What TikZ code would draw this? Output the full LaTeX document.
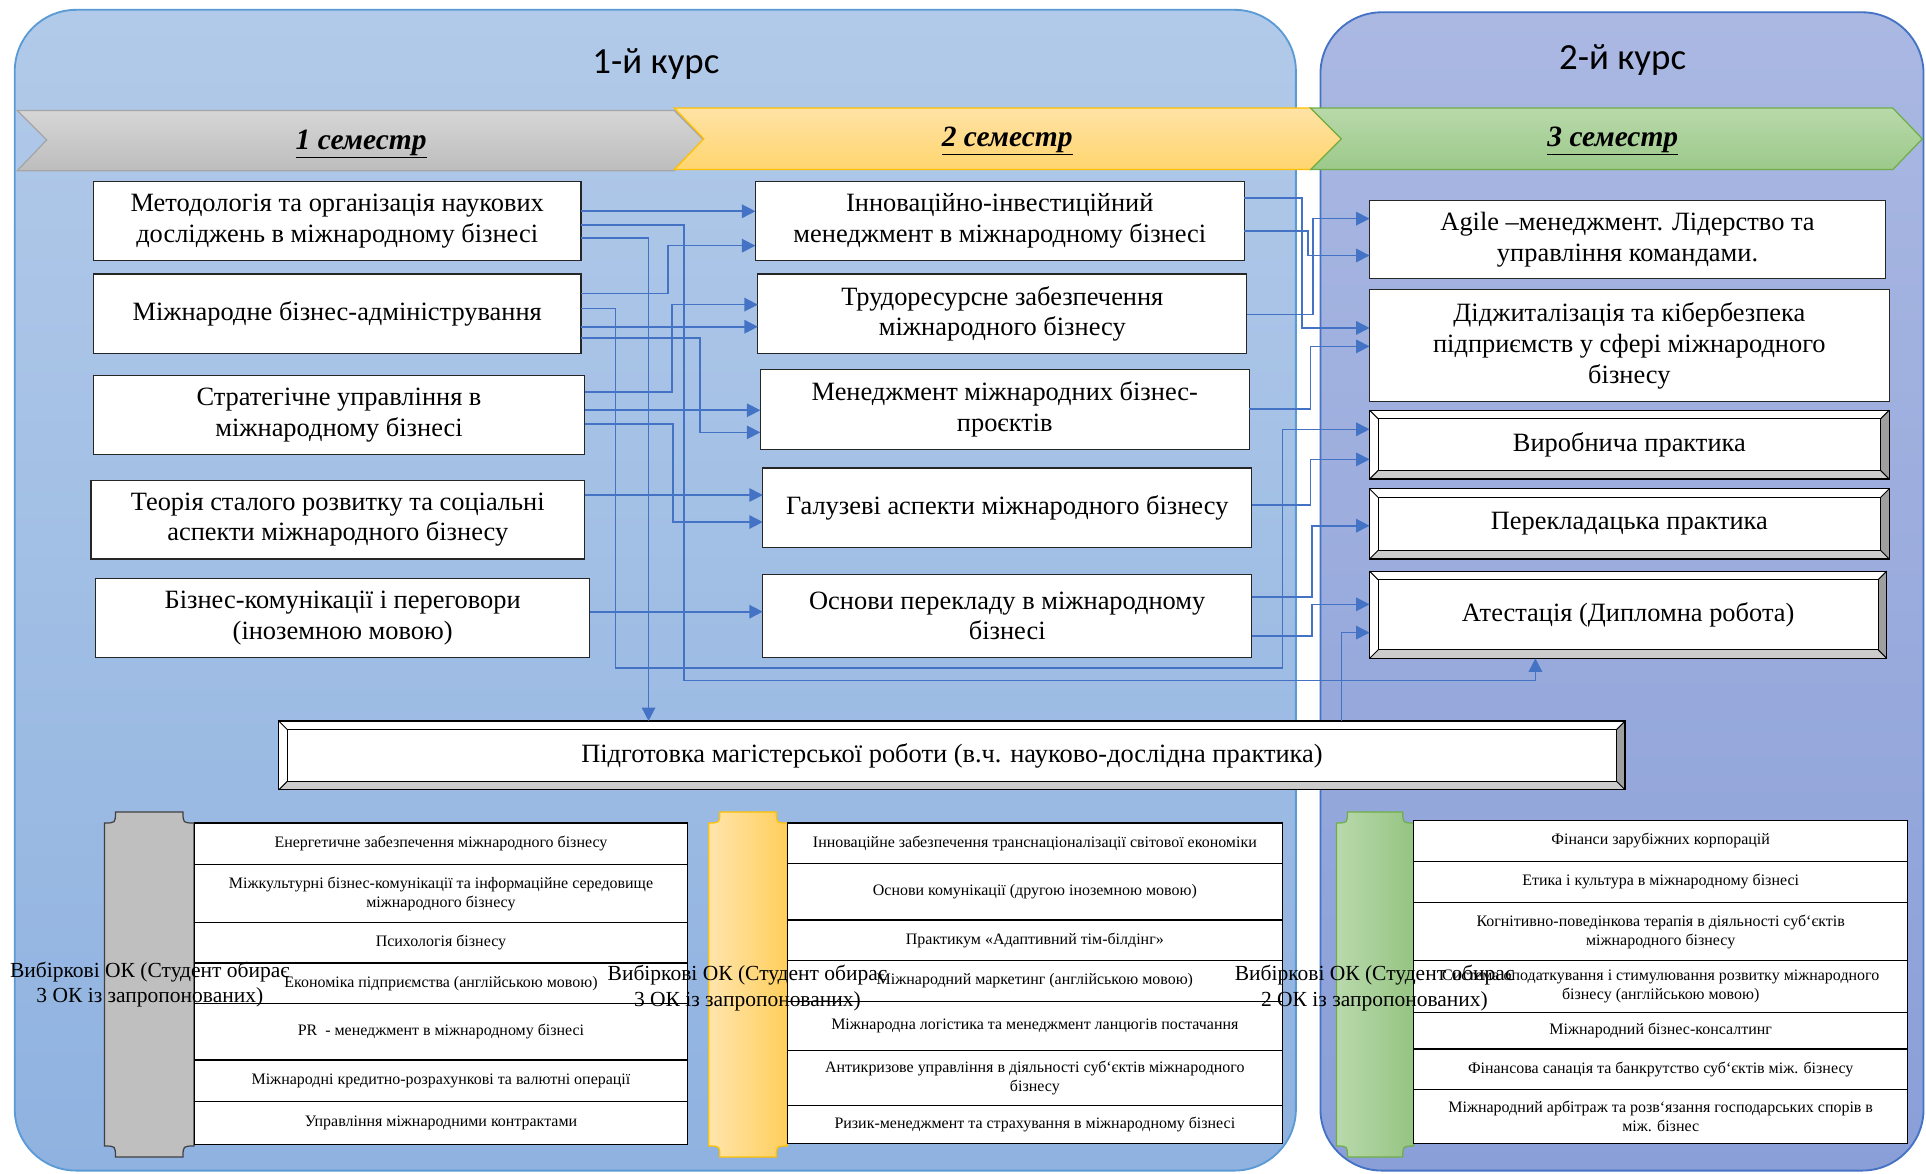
\documentclass[tikz,border=0pt]{standalone}
\usepackage{fontspec}
\setmainfont{Liberation Serif}
\newfontfamily\titlefont{Carlito}
\usepackage{tikz}
\usetikzlibrary{arrows.meta,calc}

\definecolor{panelAtop}{HTML}{B2CAE9}
\definecolor{panelAbot}{HTML}{8FB2E0}
\definecolor{panelAedge}{HTML}{5B9BD5}
\definecolor{panelBtop}{HTML}{AAB8E2}
\definecolor{panelBbot}{HTML}{8A9FD8}
\definecolor{panelBedge}{HTML}{4472C4}
\definecolor{semAtop}{HTML}{D6D6D6}
\definecolor{semAbot}{HTML}{BDBDBD}
\definecolor{semAedge}{HTML}{A5A5A5}
\definecolor{semBtop}{HTML}{FFE3A6}
\definecolor{semBbot}{HTML}{FFD56E}
\definecolor{semBedge}{HTML}{FFC000}
\definecolor{semCtop}{HTML}{B8D9AA}
\definecolor{semCbot}{HTML}{9CC98A}
\definecolor{semCedge}{HTML}{70AD47}
\definecolor{plqAleft}{HTML}{BFBFBF}
\definecolor{plqAright}{HTML}{BFBFBF}
\definecolor{plqAedge}{HTML}{404040}
\definecolor{plqBleft}{HTML}{FFE4AC}
\definecolor{plqBright}{HTML}{FFCF5C}
\definecolor{plqBedge}{HTML}{FFC000}
\definecolor{plqCleft}{HTML}{B9D9AC}
\definecolor{plqCright}{HTML}{95C482}
\definecolor{plqCedge}{HTML}{70AD47}
\definecolor{linkblue}{HTML}{4472C4}

\begin{document}
\begin{tikzpicture}[x=1pt,y=-1pt,
  box/.style={draw=black!85,fill=white,line width=1,inner sep=0,outer sep=0,align=center,font=\fontsize{21.5}{25}\selectfont},
  row/.style={draw=black,fill=white,line width=0.9,inner sep=0,outer sep=0,minimum width=402,align=center,font=\fontsize{13}{15.5}\selectfont},
  link/.style={draw=linkblue,line width=1.3,-{Triangle[length=11pt,width=11pt]}},
  sem/.style={font=\fontsize{24}{28}\selectfont\bfseries\itshape},
  course/.style={font=\titlefont\fontsize{30}{36}\selectfont},
  elect/.style={align=center,font=\fontsize{17.5}{21}\selectfont}]
      \fill[white] (0,0) rectangle (1568,955);
      \useasboundingbox (0,0) rectangle (1568,955);
      % courses
      \draw[rounded corners=50,draw=panelAedge,line width=1.5,top color=panelAtop,bottom color=panelAbot] (12,8) rectangle (1055,953);
      \draw[rounded corners=50,draw=panelBedge,line width=1.5,top color=panelBtop,bottom color=panelBbot] (1075,10) rectangle (1566,953);
      \node[course] (k1) at (534,52) {1-й курс};
      \node[course] (k2) at (1321,49) {2-й курс};
      % semesters
      \draw[draw=semAedge,line width=1,top color=semAtop,bottom color=semAbot] (14,90) -- (549,90) -- (573,114) -- (549,139) -- (14,139) -- (38,114) -- cycle;
      \draw[draw=semBedge,line width=1,top color=semBtop,bottom color=semBbot] (549,88) -- (1067,88) -- (1092,113) -- (1067,138) -- (549,138) -- (573,113) -- cycle;
      \draw[draw=semCedge,line width=1,top color=semCtop,bottom color=semCbot] (1067,88) -- (1541,88) -- (1565,113) -- (1541,138) -- (1067,138) -- (1092,113) -- cycle;
      \node[sem] (s1) at (294,117) {\underline{1 семестр}};
      \node[sem] (s2) at (820,115) {\underline{2 семестр}};
      \node[sem] (s3) at (1313,115) {\underline{3 семестр}};
      % 1 semester
      \node[box,minimum width=397,minimum height=64] (a1) at (274.5,180) {Методологія та організація наукових\\досліджень в міжнародному бізнесі};
      \node[box,minimum width=397,minimum height=65] (a2) at (274.5,255.5) {Міжнародне бізнес-адміністрування};
      \node[box,minimum width=400,minimum height=64] (a3) at (276,338) {Стратегічне управління в\\міжнародному бізнесі};
      \node[box,minimum width=402,minimum height=64] (a4) at (275,423) {Теорія сталого розвитку та соціальні\\аспекти міжнародного бізнесу};
      \node[box,minimum width=402,minimum height=64] (a5) at (279,503) {Бізнес-комунікації і переговори\\(іноземною мовою)};
      % 2 semester
      \node[box,minimum width=398,minimum height=64] (b1) at (814,180) {Інноваційно-інвестиційний\\менеджмент в міжнародному бізнесі};
      \node[box,minimum width=398,minimum height=65] (b2) at (816,255.5) {Трудоресурсне забезпечення\\міжнародного бізнесу};
      \node[box,minimum width=398,minimum height=65] (b3) at (818,333.5) {Менеджмент міжнародних бізнес-\\проєктів};
      \node[box,minimum width=398,minimum height=65] (b4) at (820,413.5) {Галузеві аспекти міжнародного бізнесу};
      \node[box,minimum width=398,minimum height=67] (b5) at (820,501.5) {Основи перекладу в міжнародному\\бізнесі};
      % 3 semester
      \node[box,minimum width=420,minimum height=64] (c1) at (1325,195) {Agile –менеджмент. Лідерство та\\управління командами.};
      \node[box,minimum width=423,minimum height=91] (c2) at (1326.5,281.5) {Діджиталізація та кібербезпека\\підприємств у сфері міжнародного\\бізнесу};
      \node[box,minimum width=423,minimum height=56] (c3) at (1326.5,362) {Виробнича практика};
      \node[box,minimum width=423,minimum height=57] (c4) at (1326.5,426.5) {Перекладацька практика};
      \node[box,minimum width=421,minimum height=71] (c5) at (1325.5,500.5) {Атестація (Дипломна робота)};
      \node[box,minimum width=1096,minimum height=56] (thesis) at (775,615) {Підготовка магістерської роботи (в.ч. науково-дослідна практика)};
      % bevels
      \foreach \n in {c3,c4,c5,thesis}{
        \fill[gray!40] (\n.south west) -- (\n.south east) -- ($(\n.south east)+(-7,-7)$) -- ($(\n.south west)+(7,-7)$) -- cycle;
        \fill[gray!75] (\n.south east) -- (\n.north east) -- ($(\n.north east)+(-7,7)$) -- ($(\n.south east)+(-7,-7)$) -- cycle;
        \draw[line width=0.8] ($(\n.north west)+(7,7)$) rectangle ($(\n.south east)+(-7,-7)$);
        \draw[line width=0.8] (\n.north west) -- ++(7,7) (\n.north east) -- ++(-7,7) (\n.south west) -- ++(7,-7) (\n.south east) -- ++(-7,-7);
        \draw[line width=1] (\n.north west) rectangle (\n.south east);
      }
      % links
      \draw[link] ($(a1.north east)+(0,24)$) -- ($(b1.north west)+(0,24)$);
      \draw[link] ($(a1.north east)+(0,35)$) -- ++(84,0) -- ++(0,371) -| ($(c5.south west)+(135,0)$);
      \draw[link] ($(a1.north east)+(0,46)$) -| ($(thesis.north west)+(301,0)$);
      \draw[link] ($(a2.north east)+(0,16)$) -- ++(71,0) |- ($(b1.north west)+(0,52)$);
      \draw[link] ($(a2.north east)+(0,28)$) -- ++(28,0) -- ++(0,293) -- ++(543,0) |- ($(c3.north west)+(0,15.5)$);
      \draw[link] ($(a2.north east)+(0,43)$) -- ($(b2.north west)+(0,43)$);
      \draw[link] ($(a2.north east)+(0,52)$) -- ++(97,0) |- ($(b3.north west)+(0,51)$);
      \draw[link] ($(a3.north east)+(0,13)$) -- ++(71,0) |- ($(b2.north west)+(0,25)$);
      \draw[link] ($(a3.north east)+(0,28)$) -- ($(b3.north west)+(0,33)$);
      \draw[link] ($(a3.north east)+(0,39)$) -- ++(72,0) |- ($(b4.north west)+(0,44)$);
      \draw[link] ($(a4.north east)+(0,12)$) -- ($(b4.north west)+(0,22)$);
      \draw[link] ($(a5.north east)+(0,27)$) -- ($(b5.north west)+(0,30)$);
      \draw[link] ($(b1.north east)+(0,13)$) -- ++(47,0) |- ($(c2.north west)+(0,31)$);
      \draw[link] ($(b1.north east)+(0,40)$) -- ++(52,0) |- ($(c1.north west)+(0,45)$);
      \draw[link] ($(b2.north east)+(0,33)$) -- ++(54,0) |- ($(c1.north west)+(0,15)$);
      \draw[link] ($(b3.north east)+(0,32)$) -- ++(50,0) |- ($(c2.north west)+(0,46)$);
      \draw[link] ($(b4.north east)+(0,30)$) -- ++(48,0) |- ($(c3.north west)+(0,40)$);
      \draw[link] ($(b5.north east)+(0,18)$) -- ++(49,0) |- ($(c4.north west)+(0,30)$);
      \draw[link] ($(b5.north east)+(0,50)$) -- ++(49,0) |- ($(c5.north west)+(0,27)$);
      \draw[link] ($(thesis.north west)+(865,0)$) |- ($(c5.north west)+(0,50)$);
      % elective plaques
      \foreach \xa/\xb/\pl in {85/158/plqA,577/641/plqB,1088/1151/plqC}{
        \draw[draw=\pl edge,line width=1,left color=\pl left,right color=\pl right]
          ({\xa+9},661) -- ({\xb-9},661) .. controls ({\xb-9},670) .. (\xb,670) -- (\xb,933)
          .. controls ({\xb-9},933) .. ({\xb-9},942) -- ({\xa+9},942) .. controls ({\xa+9},933) .. (\xa,933)
          -- (\xa,670) .. controls ({\xa+9},670) .. ({\xa+9},661) -- cycle;
      }
      % electives 1
      \node[row,minimum height=34] (e11) at (359,687) {Енергетичне забезпечення міжнародного бізнесу};
      \node[row,minimum height=47] (e12) at (359,727.5) {Міжкультурні бізнес-комунікації та інформаційне середовище\\міжнародного бізнесу};
      \node[row,minimum height=33] (e13) at (359,767.5) {Психологія бізнесу};
      \node[row,minimum height=33] (e14) at (359,800.5) {Економіка підприємства (англійською мовою)};
      \node[row,minimum height=46] (e15) at (359,840) {PR\ \ - менеджмент в міжнародному бізнесі};
      \node[row,minimum height=34] (e16) at (359,880) {Міжнародні кредитно-розрахункові та валютні операції};
      \node[row,minimum height=35] (e17) at (359,914.5) {Управління міжнародними контрактами};
      % electives 2
      \node[row,minimum width=403,minimum height=33] (e21) at (842.5,686.5) {Інноваційне забезпечення транснаціоналізації світової економіки};
      \node[row,minimum width=403,minimum height=46] (e22) at (842.5,726) {Основи комунікації (другою іноземною мовою)};
      \node[row,minimum width=403,minimum height=33] (e23) at (842.5,765.5) {Практикум «Адаптивний тім-білдінг»};
      \node[row,minimum width=403,minimum height=33] (e24) at (842.5,798.5) {Міжнародний маркетинг (англійською мовою)};
      \node[row,minimum width=403,minimum height=40] (e25) at (842.5,835) {Міжнародна логістика та менеджмент ланцюгів постачання};
      \node[row,minimum width=403,minimum height=45] (e26) at (842.5,877.5) {Антикризове управління в діяльності суб‘єктів міжнародного\\бізнесу};
      \node[row,minimum width=403,minimum height=31] (e27) at (842.5,915.5) {Ризик-менеджмент та страхування в міжнародному бізнесі};
      % electives 3
      \node[row,minimum height=33] (e31) at (1352,684.5) {Фінанси зарубіжних корпорацій};
      \node[row,minimum height=34] (e32) at (1352,718) {Етика і культура в міжнародному бізнесі};
      \node[row,minimum height=47] (e33) at (1352,758.5) {Когнітивно-поведінкова терапія в діяльності суб‘єктів\\міжнародного бізнесу};
      \node[row,minimum height=42] (e34) at (1352,803) {Система оподаткування і стимулювання розвитку міжнародного\\бізнесу (англійською мовою)};
      \node[row,minimum height=30] (e35) at (1352,839) {Міжнародний бізнес-консалтинг};
      \node[row,minimum height=33] (e36) at (1352,870.5) {Фінансова санація та банкрутство суб{\char96}єктів між. бізнесу};
      \node[row,minimum height=44] (e37) at (1352,909) {Міжнародний арбітраж та розв{\char96}язання господарських спорів в\\між. бізнес};
      % elective labels
      \node[elect] (v1) at (122,801.5) {Вибіркові ОК (Студент обирає\\3 ОК із запропонованих)};
      \node[elect] (v2) at (608.5,804.5) {Вибіркові ОК (Студент обирає\\3 ОК із запропонованих)};
      \node[elect] (v3) at (1119,804.5) {Вибіркові ОК (Студент обирає\\2 ОК із запропонованих)};
\end{tikzpicture}
\end{document}
